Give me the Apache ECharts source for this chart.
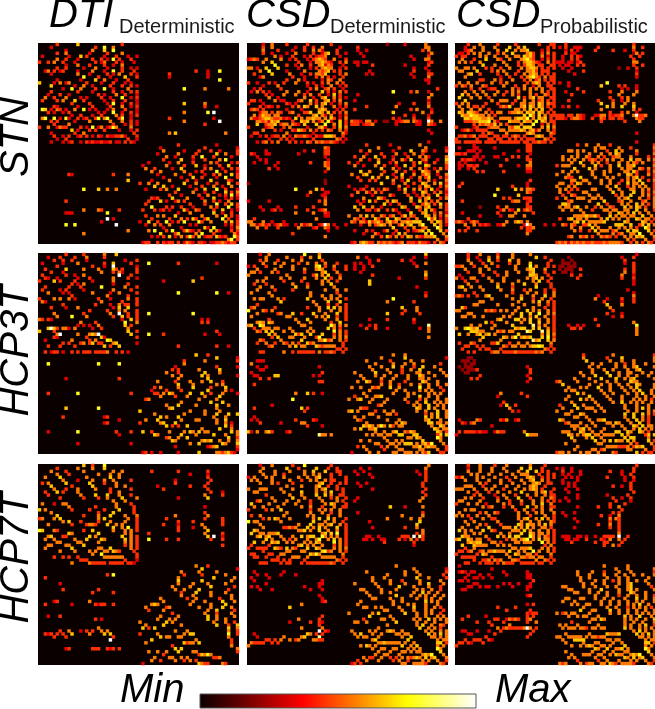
<!DOCTYPE html>
<html>
<head>
<meta charset="utf-8">
<script src="https://cdn.jsdelivr.net/npm/echarts@6/dist/echarts.min.js"></script>
<style>html,body{margin:0;padding:0;background:#fff}#chart{width:655px;height:709px}</style>
</head>
<body>
<div id="chart"></div>
<script>
const rowNames = ['STN', 'HCP3T', 'HCP7T'];
const rowCentres = [137, 351, 558];
const colNames = [['DTI', 'Deterministic'], ['CSD', 'Deterministic'], ['CSD', 'Probabilistic']];
const gridLefts = [38, 247, 455];
const gridTops = [43, 253, 464];
const panelSize = 201;
const N = 68;
const hotColors = ['#0a0000', '#550000', '#aa0000', '#ff0000', '#ff5500', '#ffaa00', '#ffff00', '#ffff80', '#ffffff'];

// digits 0-9: regional density and brightness plus
// the bright cells that could be made out, not an exact cell by cell reading.
// AA, BB: upper triangle of each hemisphere block, right aligned on the block's last column.
// AB: block between hemispheres, left aligned, in groups of five. Trailing zeros left out.
const dtiStnAA = ['00000400000060000000 0000000 400000','0030000000000000040 0700500 000000','000000300000000500 0600700 000000','00400500000003000 0040000 500000','0000030006040000 0300040 003003','500400030000400 4030704 000400','04000300000040 3500040 300030','0300050004000 0400300 500000','400000300050 0030000 400303','00030000500 0300700 400040','0050003000 0040305 000403','000700004 0003000 060004','03000060 0500030 004000','0040000 3000400 030300','500300 0004000 400403','00040 0700300 005000','0300 0000400 300404','004 0300050 040003','00 4003000 700304','0 0300400 040003','0030700 300403','004000 500304','30500 040003','0700 300403','050 400304','04 700300','0 500403','030403','00500','0304','040','04','3'];
const dtiStnAB = ['','','','','','','','','','00000 00000 00000 00004 00030 007','00000 00000 40000 00000 00030','00000 00000 30000 00000 00030','00000 00000 00000 00000 00000 007','','','00000 00000 00000 70000 00500 00000 5','','','','','00000 00000 00000 60000 00500','00000 00000 00000 00000 00400 03','','00000 00000 00000 50000 00070 90','','00000 00000 40000 00000 00000 3','00000 00000 00000 50000 00000 00900','00000 00000 00000 00000 00400','','','00000 00000 50600 00000 00000 00005'];
const dtiStnBB = ['00000000000040000000000 00300 00000','0000030000000000000040 00000 00003','000005000000300004000 40030 00004','00300000050000040000 00600 50004','0000500300000400700 04000 00300','004000006000300040 00050 70000','00030050000400000 50400 00304','0500000400060030 00040 06000','003006000000040 50003 00404','00000500030400 00700 40003','0500004000030 04050 00604','003000600400 00300 70004','00040030000 60000 04300','0600050003 00400 06004','003000400 05003 00500','00040060 00700 40003','0500030 04000 60405','004005 00030 40704','00300 06000 30403','0050 04030 05000','040 00700 40604','00 50400 07004','0 04006 00303','06003 00400','0500 60403','007 04003','00 50604','0 30404','00305','0404','053','74','4'];
const csdDetStnAA = ['00003005000040000004 0000000 400000','0004005000000030040 0400500 000300','005000040000300040 0505300 004000','04003000030050000 0400356 004003','0000503000400030 4034450 000300','500005003040003 0456540 050004','06000000004000 3055654 300405','0700040030500 4005635 400030','060000003000 3040565 500304','00030000050 0005456 040400','0005000300 4055460 000405','00400030 0040504 030040','040005030 0000305 400500','00050004 0300405 005040','04000003 0040300 500304','000000 4050045 040030','05003 0000604 030504','0040 5004003 060400','050 0300560 050403','00 6040056 040500','4 5040560 300405','5060500 050304','05650 003040','06506 040405','7530 500304','050 640305','07 300604','050604','40605','0504','053','40','3'];
const csdDetStnAB = ['00000 00000 00020 00003 00000 05','00040 00000 00000 00000 00000 05 5','00030 03000 00000 00000 00000 40500','00003 00000 00000 00000 00000 00250','00000 30000 00000 00000 03000 00400','00000 00000 00000 00000 00300 05500','00330 33000 00000 00000 00000 00340','00030 00040 00000 00003 00000 00400','00000 00000 00000 00000 00300 03000','00000 00300 00000 00000 00400 00300','00000 03030 00000 00000 03000 00440','00000 00000 00000 00000 00300 00500','00000 00000 00000 00000 00000 03300','00000 00000 00000 00000 00000 00300','','00000 00000 00000 00000 00000 00000 4','00000 00000 00000 70000 04050 00300','00030 00000 00000 00000 00000 00050','00000 00000 00000 00000 00000 00500','00300 00000 00000 00000 00000 00300','00000 00000 00000 00300 00400 00400','00000 04000 00000 05000 00000 00500','00400 00000 00000 00000 04050 00030','00000 00000 00000 60000 00000 50040','00000 00000 00000 00004 00300 00300','00000 00000 00000 40300 00400 00400','05443 05503 00220 03345 50543 00950 050','04440 34450 00000 03000 00033 00543','','00000 00000 00000 00000 00000 00300','00000 00000 00000 00000 00000 00030','','','00000 00000 00000 00000 00000 00300'];
const csdDetStnBB = ['00000400000003000000000 50000 00000','0000000050000004000000 00500 00003','040050000000300000600 05400 30004','00300004000050030050 04000 00000','05000600400300004000 50530 00005','0030050000400530600 04500 03006','00060003050000040 60300 40005','0500400030060040 00650 00004','006000503000500 50400 30504','00400050040030 06540 05000','5000300600050 04650 03005','060040500300 50460 00404','00500306000 40050 30005','0400050040 06500 50604','005003000 40650 00405','03060050 50406 03004','0050030 06500 40503','04003 05040 06004','00600 40560 00405','0500 60504 05000','030 04650 40604','06 50560 00504','0 40605 30004','05600 40503','0650 50405','074 60304','05 06504','0 60503','07500','604','50','5','4'];
const csdProbStnAA = ['00040005000004000004 0000000 400044','0300500500050000600 5060000 000404','345000500005006005 0556000 030400','40505005004050060 0005640 040504','0005050050005005 5065640 050304','400060005400500 0567540 030404','05000000050000 4056654 300504','0600050005000 4046650 440044','040400400500 0505665 040404','00405050000 4005564 044400','0004005004 0050565 040404','00300400 0405675 405044','050400050 0040504 504044','00405000 0004056 500404','04050004 0050030 500440','000050 4050505 050044','04050 5000500 050404','0050 4000504 005404','000 6040560 550044','04 0050050 450404','6 0550550 650544','0560650 650404','50605 060040','06560 650404','0750 605044','050 656040','07 065044','030504','50605','0504','054','40','44'];
const csdProbStnAB = ['00040 00000 00000 00000 00000 040','03040 03330 00004 00000 00000 05004','00030 40300 00040 00004 00030 04000','00040 33000 00000 00000 00000 02504','00300 40430 00000 00000 00000 40040','00300 40400 00000 00000 00000 04000','33303 30340 00000 00000 00000 05500','03033 00404 00000 00000 00000 04004','00300 30000 00000 00000 02003 00400','00003 00004 00000 00000 00000 00300','00000 03000 00000 00000 00000 00400','00000 00000 00000 00000 00000 00300','','03003 00000 00000 00700 00000 00000','00003 00000 00000 60000 04040 00300','00000 00400 00000 00000 00303 00300','00030 00004 00000 00040 00500 00500','00000 40000 00000 00000 05000 05000','00000 00000 00000 00040 00405 00000','00004 00000 00004 00004 00305 00000','00000 00000 00000 60005 00050 05000','00304 00300 00000 00605 00600 06000','00000 00000 00000 50000 00000 05040','00000 00000 00000 00040 00405 00300','44404 40543 00033 55043 44500 05944 50','44430 45543 00400 54044 04400 00544','00000 00000 00000 40000 00040 00050','','','','00000 00000 00000 00000 00000 00300','','','00000 00000 00000 00000 00000 003'];
const csdProbStnBB = ['00000040050005000400000 00000 00004','0000000000050550000500 04000 00005','055050500050004006050 00050 00004','00050005000500506500 00040 00005','5050054005040045500 05000 00403','500504540405050050 06055 00505','06000505004000500 50540 50004','0500060400500600 55600 00005','006050000500050 55005 40504','00500050500005 50640 00405','0500050000500 65040 00504','050005050000 50560 40004','00500500040 50506 00405','0500500400 60550 60004','005006000 40505 05004','00500500 05500 50504','0060050 00600 50405','04050 06000 50504','00505 60005 00405','0450 05000 45005','050 50060 50405','06 05065 04005','5 50060 05004','50605 00500','5500 60050','065 05504','00 65040','4 60605','07500','604','50','5','4'];
const dtiH3AA = ['00000000400000400000 0500060 000000','0300040000400050000 0400000 000000','004004004000030000 0000000 030004','00003000050000000 0400600 000400','0400000000000400 0300900 000003','000600000500005 0000640 400004','300000000000 05000405 300004','00400300500000 0000009 000400','000030004000 0000500 004003','00400000300 0000500 000000','4030500000 0000300 004000','04000000 7000000 050004','0300000 0000500 000400','000500 0003005 000004','00000 0050000 004000','0004 0003000 005004','000 5000000 400004','40 0003005 044004','0 0000306 006000','0040 0050500 04','0500 9004004','00400 604004','0300 604','070 005','60 400','0 5000','6004','0600','004','00','3'];
const dtiH3AB = ['','','','00070 00000 00040 00000 00000 03','','','','','00000 00000 00000 00000 04','00000 00030 00000 00060','','','','00000 00000 00070 00000 00000 07000 3','','','','','','','00070 00000 00000 00070','','00000 00000 00000 00000 03030','00000 00000 00000 00000 04040','','','00000 00000 00000 00000 00000 04','00070 00040 00000 00000 00300 00300','','','','00000 00000 00040 00000 00000 04000 3','',''];
const dtiH3BB = ['000000000000000060004 00000 00000','00000000000000000 00600 00003','0000000000400000050 00000 00004','0000000500000000 00000 00000','0000300000000000 00400 00003','000040400000 05000 00060 00000','005000400000 00060 00050 00000','00050050000 00605 00000 00003','00000500000 00006 00000 00000','00004000050 00500 60004 00000','000600005 00000 00505 00000','0500006 00000 40000 60000','040000 00006 00000 50300','00060 00600 40005 00003','0000500 00050 00060 00000','04000 05000 00500 00000','00500 00000 60006 00000','0040 50000 00600 05000','006 00000 00500 00000','06 00050 00050 00000','0400 50006 00060 06','0006 00050 00500 00','0000 60005 00600 00','06 00500 50300','00 50000 60400','0060 00500','05 00006 05','00 50005','006004','05005','0006','004','3'];
const csdDetH3AA = ['00030050000000000070 0005000 000000','0000500000050000400 5006000 000000','040500040000500500 0000400 000000','05000500500004005 0050050 004000','0400005000500000 0067040 050004','000500000500050 0056500 040004','05040000000040 0000560 005000','0000050000000 0460506 000400','005005000050 0050060 400500','00400000400 0000505 004000','0000500004 0000500 600000','00060005 0000000 050000','0400000 0000050 005005','000000 5000000 004000','0000 5000500 500500','0006 0000050 505004','000 0500006 000600','05 0004004 004','4 0005006 060504','00 5000500 504','0600 0500060 04','0505 0600400 4','0005 0005004','0000 400600','0750 505','060 50400','00 70504','040504','50505','0504','040','40','4'];
const csdDetH3AB = ['00000 00000 00000 00000 00000 06','00050 03000 00000 00000 00300 03','00000 00300 40000 00040 03000 00','00303 00300 00000 00000 00300 05','00300 30040 00000 00000 00040 00','00300 30000 00000 00000 00000 00','00003 00000 00000 00000 00000 05','00000 00040 00000 00000 00000 06','00000 00000 00000 00300 00000 04','00000 00600 00000 00000 00000 00','00000 00600 00000 00000 00000 00','00000 00000 00000 00000 00030','','00000 00000 00000 00000 00000 03','00000 00000 00000 00000 00000 04','00000 00000 00000 70000 00000 00','00000 00000 00050 00000 00400','00000 00000 00000 00000 00000','00000 00000 00000 00060 00050','00000 00000 00000 00004 00050','00000 00000 00060 00040 00004','00000 00000 00000 00000 00000','00000 00300 00040 00000 00400','00000 00000 00000 00000 00300','00003 00304 00000 00000 00000 00800','00000 04004 00030 00000 00003 00500','00000 00000 00000 00000 00000 00500','','00000 00000 00000 00000 00000 00500','','','','',''];
const csdDetH3BB = ['00000000000000500050000 00000 00000','0000000005000000060000 00000 00003','000500000004000000500 05000 00000','00000500000500050050 00000 00400','0050005000600500040 06000 50000','005000050000400500 60000 00500','00600005000400005 50050 00050','0500500050005000 65000 50005','005000500005000 55050 00000','04005000040000 06500 05000','5005004000500 50050 05005','006005000000 70050 00400','00050050000 50505 00040','0500005050 00050 50500','00005000 60050 05000','0050000 40500 05005','004005 00600 50505','0050 50060 05050','006 50060 50050','05 00500 06005','04 05060 05','06 05060 05','05 60005 00','06 60550 5','05 00650','06 5055','065 04','04606','7500','500','50','4','4'];
const csdProbH3AA = ['00040005000004000050 0000500 000000','0040030005005000050 0000006 004000','050003006004000600 5000000 000040','05000400500000400 5000600 000400','0400050004000005 0000705 000404','005005000000005 0005660 005000','05000040005000 5000560 004004','0400004005000 0000665 000400','005000050000 0005056 050040','00500050000 5000050 600400','0005000050 0060005 000040','06000040 0000006 000040','0500050 0040500 004004','00040 0005005 004005','005000 0500050 006005','0050 0600040 050040','0000 5000050 600504','0050 0050000 500404','000 5000050 004004','05 0006050 500504','0600 6007005 05','0600 5060050 04','5060 0500504','0060 0600504','0080 505004','060 600504','00 80604','50605','60704','0605','050','40','4'];
const csdProbH3AB = ['00000 00000 00000 00000 00000 003','00002 00000 00000 00000 00300 04','00200 20000 00000 00000 00040 00','00222 02000 00000 00000 00030 04','02202 22000 00000 00000 00000 04','02022 20040 00000 00000 00040 04','00220 20000 00000 00000 00050 04','00000 40040 00000 00000 00500 03','00000 00400 00000 00000 00400 04','00000 00000 00000 00000 00000 03','00000 00000 00000 00000 00000 03','','00000 00000 00000 00000 00003','00000 00000 00000 00000 00000 03','00000 00000 00003 00000 00000 05','00000 00000 00050 00300 00400 04','00000 00000 00000 04000 00300 04','00000 00000 00000 00600 00500','00000 00000 00000 00050 00000','00000 00000 00000 00004 00000','00000 00000 00000 00400 00300','00000 00000 00000 00003 00400','00000 00000 00040 00000 00000','00000 00000 00000 00000 00000 050','00003 00303 00004 00000 00000 00700','00000 44040 00000 00000 00000 00500','00000 00000 00000 00000 00000 00500','00000 00000 00000 00000 00000 00500','','','','','',''];
const csdProbH3BB = ['00000000400000000050000 00000 00004','000000500000004000060 00000 00005','000060000000500050 00500 00005','00000500500005004 00500 05000','00005005000005005 00560 00005','0000500050050000 50056 00000','05000500006000500 55000 50050','0500060000600500 50050 00500','005000600006005 05600 00005','0050005005000 06550 00000','05000500500500 50065 00005','006000500050 05060 00005','00500500005 00506 00050','0050050000 50050 60050','005000050 00050 05005','00500050 00505 05040','0050060 05050 50050','005 00050 00500','005 00050 60500','00 50050 00505','06 00600 60504','05 00600 50400','50 50060 50400','0 05006 00400','06 50605 50','05 06050 50','006 50400','04606','0500','604','50','4','4'];
const dtiH7AA = ['00000000000000600400 0700000 000000','0000400000050000500 0600000 000000','050000400000500000 0000500 500000','00500040000000005 0005005 000000','0060000000050000 0006005 000000','005000030000500 0500500 000400','0600000006000 0400050 000000','00004000000600 0000050 050000','400050000050 0004000 000400','00050000000 0004005 000000','0005000060 0060005 000400','00400004 0050000 600005','000000000 0000500 050000','0000000 0000050 000400','00040 0000050 000040','04000 0400006 000040','0004 0000600 000040','05 0006000 050005','005 0600000 005004','04 0005000 050004','06 0050500 004','00 6005070 04','05 0005050 4','00 05050 0','0600 504','060 504','05 0504','40504','0504','040','04','4','3'];
const dtiH7AB = ['','','00004 00000 00040 00000 00040','00000 00000 00000 00300 00030','00000 00000 00000 00000 00040','00000 00000 00300 00000 00004','00000 00000 00400 00000 00040','00000 03000 00000 00400 00400','00000 00040 00000 00000 00040','00000 00000 00000 00000 00004 00030','00000 00000 00000 00000 00500 00040','00000 00000 00030 00000 00060','00000 00000 00000 00000 00000','','00000 00000 00000 00000 00300','','00000 00000 00000 00000 00400','00000 00000 00500 00000 00050','00000 00004 00000 00000 00400 00040','00000 00000 00040 00040 00000 00040','00000 00040 00030 00000 05000 0004','00000 00000 00040 00030 00500','00000 00000 00040 00000 00060','00040 00000 00000 00000 00500 00040','00000 00000 00000 00000 00060 90030','00070 00004 00040 00000 00004 00040','','00000 00000 00000 00000 00000 00040','','','','','',''];
const dtiH7BB = ['000000000000000050004 00000 00000','00000000000000 00600 00000 00003','00000005000005000 00500 00000','000000400000400 00000 50000','000050000000000 06000 00050','000060000000600 00000 00500','00050000500005 00000 50000','05000005000000 60000 00040','00500500006000 00000 04000','004000060000 50000 50000','05000500000 50000 00500','0040050000 00040 00500','00500050 00006 00050','05000000 50000 60000','005000 50006 00500','00005 00600 00040','0050 00400 00500','006 00500 00050','06 00500 50000','0 05000 50040','06 00040 06','0060 05','05 004','70 04','050 00','04 00','4 00','5 00','5','4','0','0','0','0'];
const csdDetH7AA = ['00030005000000400070 0000000 400000','0005000000060004000 0060004 004000','050000500005000050 0600060 004400','05000500400000050 0505000 400400','0505000500005005 0056000 400004','005000005000400 5050050 440004','05040000400000 0005600 400404','0000050000500 0056004 004000','005000500000 0050560 004040','00500000600 0050050 600040','0005000500 0060060 500440','00600050 0005000 405004','050005000 4000500 005040','00050000 4000050 650004','000500 5000400 050044','0000 4005050 500500','000 5000500 400500','05 0500005 000500','0 0506006 050004','0 0600050 050040','0 6005505 600504','0506 0500060 04','0506 0050050 04','005 606070 04','0750 505004','050 60504','00 70504','040504','50505','0504','050','40','4'];
const csdDetH7AB = ['00000 00000 00000 00000 00000 005','00003 00300 00000 00000 00000 05','00300 30000 00000 00000 00030 040','00030 00300 00000 00000 00003 040','00000 00030 00000 00000 00000 040','00000 00000 00000 00000 00000 040','00030 03000 00000 00000 00000 400','00003 00000 00000 00000 00000 400','00000 00030 00000 00000 00000 040','00000 00000 00000 00000 00000 400','00000 00000 00000 00000 00000 040','00030 00000 00000 00000 00000 500','00300 00000 00000 00000 00005 00','','00000 00000 00006 00003 00000 500','','00030 00000 00000 00000 00000 400','00000 00000 00000 00050 00000 500','00000 00000 00050 00000 05005','00000 00300 00000 00000 00006 00','00000 00000 00000 00000 00060 00','00000 00030 00000 00004 00050 0','00000 00000 00000 00000 00000 500','00000 00000 00000 00000 00040 50','00000 03300 30000 00044 40908 40','00000 33030 03300 00403 05040 40','00000 00000 00400 00000 00400','00000 00000 00000 00000 00300','','','','','',''];
const csdDetH7BB = ['00000000000000050000000 00000 00000','0000000000000000000050 00000 00003','000500000000000050005 00000 00004','00000000050000050000 50000 00040','0005000500000000006 00050 00004','005000005000400000 50000 00500','00500005000050000 50060 00050','0050000006000050 00050 00400','005000050000005 05005 00400','05005000000050 06050 05000','0000060000500 50500 50050','005000500005 00505 00500','00500500000 00605 05000','0500005050 00500 05000','005000060 00500 50400','00500050 00505 00040','0060005 00505 00400','0005 00500 05050','050 50060 50505','05 00500 50005','05 06005 00540','00 60050 50400','05 05005 05','06 05060 5','05 50505','00 5055','066 04','05050','7500','600','50','5','4'];
const csdProbH7AA = ['00040005000040005000 0000500 004000','0030005000500050000 0600600 040000','050005000500005000 5006006 040400','05050005000500050 0555000 400404','0050500050004005 0005650 040404','050005000500400 0500560 050400','05040000500050 0050056 500440','0400050005000 5000565 004000','050500040005 0050565 040004','04005000500 0600005 056040','0030050004 0005005 005044','04005000 6000400 050054','005000400 0500050 050404','0050400 0400050 060050','0040050 0006005 050044','004 0050040 050050','000 5005005 050005','00 5000400 005004','0 5056005 060504','0 0500500 500054','0 6506550 506050','0506 0500550 40','5060 5005005 04','0560 6505505 04','0750 505404','050 605504','00 70504','04050','50504','0504','050','40','4'];
const csdProbH7AB = ['00000 00000 00000 00000 00000 004','30300 30000 00000 00000 00000 040','00400 30030 00000 00040 00300 040','00303 00030 00000 00000 00300 40','00030 30300 00000 00400 00030 04','00300 00300 00000 00000 00030 03','00303 03000 00000 00000 00000 40','00003 03000 00000 00004 00300 40','00030 00300 00000 00000 00000 40','00003 00000 00000 00000 00000 04','00000 00300 00000 00300 00004 00','00030 00300 00000 00004 00300 40','03003 00000 00000 00000 40000 3','00000 00000 00000 00040 00040','00000 00300 00004 00040 05','00000 00000 00000 00000 00400','00300 03000 00000 00004 04000','00030 00000 00000 40030 05','00000 03000 00000 00050 54000','00000 00300 00000 00040 04000','00000 00000 00004 00050 04000','00000 03000 00000 00040 04000','00000 00000 00000 00000 04000','00000 00000 00000 00000 05','00333 00330 30030 04444 09004','00033 03300 40000 43050 05040','00000 40000 00040 04400 00400','00000 00000 00000 04005 04','','','','','',''];
const csdProbH7BB = ['00000000000000050000000 50000 00000','0000000000000000005000 50000 00005','000050000500040000500 05000 00004','00050005000050005005 00500 50005','0005005000005000500 50000 00500','005000050050040500 50050 05000','00500500050000500 56000 00500','0500050005005000 56000 00040','005000600000500 56050 00005','05005005000500 06500 05000','0050005000400 50050 05004','050050050005 00060 05005','00500500500 50050 50005','0500500500 50506 00500','005005000 40505 05040','00600500 50050 05005','0500500 50050 50505','006 05006 00050','05 05050 05006','05 00500 50005','05 05005 06004','06 05005 05050','05 06050 05','06 05060 5','05 50505','00 5055','06 604','05050','7500','600','50','5','4'];

const panels = [
  [dtiStnAA, dtiStnAB, dtiStnBB], [csdDetStnAA, csdDetStnAB, csdDetStnBB], [csdProbStnAA, csdProbStnAB, csdProbStnBB],
  [dtiH3AA, dtiH3AB, dtiH3BB], [csdDetH3AA, csdDetH3AB, csdDetH3BB], [csdProbH3AA, csdProbH3AB, csdProbH3BB],
  [dtiH7AA, dtiH7AB, dtiH7BB], [csdDetH7AA, csdDetH7AB, csdDetH7BB], [csdProbH7AA, csdProbH7AB, csdProbH7BB]
];

const chart = echarts.init(document.getElementById('chart'));
const cells = [...Array(N).keys()].map(String);

// the matrices look symmetric, so every cell is put in twice
function buildCells(p) {
  const out = [];
  const put = (r, c, v) => { if (v > 0 && c > r && c < N) out.push([c, r, v / 9], [r, c, v / 9]); };
  const putTriangle = (rows, first) => rows.forEach((s, i) => {
    const r = first + i;
    [...s.replace(/ /g, '')].reverse().forEach((ch, k) => put(r, first + 33 - k, +ch));
  });
  putTriangle(p[0], 0);
  p[1].forEach((s, i) => [...s.replace(/ /g, '')].forEach((ch, k) => put(i, 34 + k, +ch)));
  putTriangle(p[2], 34);
  return out;
}

const grids = [], xAxes = [], yAxes = [], series = [];
rowNames.forEach((rowName, r) => colNames.forEach((col, c) => {
  const idx = r * 3 + c;
  grids.push({ left: gridLefts[c], top: gridTops[r], width: panelSize, height: panelSize, show: true, backgroundColor: '#0a0000', borderWidth: 0, outerBoundsMode: 'none' });
  xAxes.push({ type: 'category', data: cells, gridIndex: idx, show: false });
  yAxes.push({ type: 'category', data: cells, gridIndex: idx, inverse: true, show: false });
  series.push({ type: 'heatmap', xAxisIndex: idx, yAxisIndex: idx, data: buildCells(panels[idx]), animation: false, progressive: 0 });
}));

const bigFont = 'italic 40px "Liberation Sans"';
const subFont = '20px "Liberation Sans"';
const titleX = [49, 246, 456];
const subX = [119, 330, 540];
const texts = [];
colNames.forEach((col, c) => {
  texts.push({ type: 'text', x: titleX[c], y: 16, style: { text: col[0], font: bigFont, fill: '#000', verticalAlign: 'middle' } });
  texts.push({ type: 'text', x: subX[c], y: 27, style: { text: col[1], font: subFont, fill: '#1a1a1a', verticalAlign: 'middle' } });
});
rowNames.forEach((name, r) => {
  texts.push({ type: 'text', x: 17, y: rowCentres[r], rotation: Math.PI / 2, style: { text: name, font: bigFont, fill: '#000', align: 'center', verticalAlign: 'middle' } });
});
texts.push({ type: 'text', x: 120, y: 691, style: { text: 'Min', font: bigFont, fill: '#000', verticalAlign: 'middle' } });
texts.push({ type: 'text', x: 495, y: 691, style: { text: 'Max', font: bigFont, fill: '#000', verticalAlign: 'middle' } });
// colour bar, same stops as the visualMap
texts.push({
  type: 'rect', shape: { x: 200, y: 694, width: 276, height: 14 },
  style: {
    stroke: '#555', lineWidth: 1,
    fill: new echarts.graphic.LinearGradient(0, 0, 1, 0, hotColors.map((color, i) => ({ offset: i / (hotColors.length - 1), color })))
  }
});

chart.setOption({
  animation: false,
  backgroundColor: '#fff',
  grid: grids, xAxis: xAxes, yAxis: yAxes, series,
  visualMap: { type: 'continuous', show: false, min: 0, max: 1, seriesIndex: series.map((s, i) => i), inRange: { color: hotColors } },
  graphic: texts
});
</script>
</body>
</html>
